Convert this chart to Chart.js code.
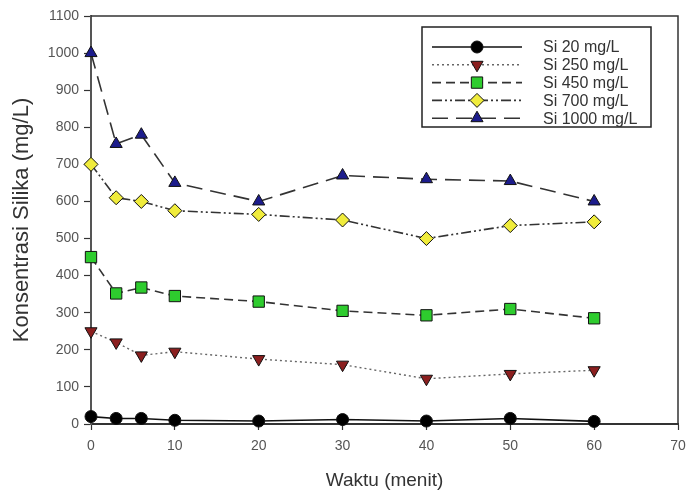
<!DOCTYPE html>
<html>
<head>
<meta charset="utf-8">
<script src="https://cdn.jsdelivr.net/npm/chart.js@4.4.0/dist/chart.umd.min.js"></script>
<style>
  html, body { margin: 0; padding: 0; background: #fff; }
  #wrap { width: 690px; height: 497px; }
</style>
</head>
<body>
<div id="wrap"><canvas id="silikaChart" width="690" height="497"></canvas></div>
<script>
// sampling times (menit)
const waktu = [0, 3, 6, 10, 20, 30, 40, 50, 60];

// silica concentration per initial dose (mg/L)
const si20   = [20, 15, 15, 10, 8, 12, 8, 15, 7];
const si250  = [250, 220, 185, 195, 175, 160, 122, 135, 145];
const si450  = [450, 352, 368, 345, 330, 305, 293, 310, 285];
const si700  = [700, 610, 600, 575, 565, 550, 500, 535, 545];
const si1000 = [1000, 755, 780, 650, 600, 670, 660, 655, 600];

const xTicks = [0, 10, 20, 30, 40, 50, 60, 70];
const yTicks = [0, 100, 200, 300, 400, 500, 600, 700, 800, 900, 1000, 1100];

const FONT = '"Liberation Sans", Arial, sans-serif';

function pts(ys) {
    return waktu.map((x, i) => ({ x: x, y: ys[i] }));
}

function series(label, ys, style) {
    return Object.assign({
        label: label,
        data: pts(ys),
        borderWidth: 1.6,
        pointBorderColor: '#111',
        pointBorderWidth: 1,
        pointRadius: 6,
        fill: false,
        tension: 0,
        clip: false
    }, style);
}

const datasets = [
    series('Si 20 mg/L', si20, {
        borderColor: '#111', borderDash: [],
        pointStyle: 'circle', pointBackgroundColor: '#000', pointRadius: 6
    }),
    series('Si 250 mg/L', si250, {
        borderColor: '#666', borderDash: [2, 3], borderWidth: 1.4,
        pointStyle: 'triangle', pointRotation: 180, pointBackgroundColor: '#8b1f1f', pointRadius: 7
    }),
    series('Si 450 mg/L', si450, {
        borderColor: '#333', borderDash: [9, 5],
        pointStyle: 'rect', pointBackgroundColor: '#2ecc2e', pointRadius: 8
    }),
    series('Si 700 mg/L', si700, {
        borderColor: '#333', borderDash: [10, 3, 2, 3, 2, 3],
        pointStyle: 'rectRot', pointBackgroundColor: '#f0ec3c', pointRadius: 7
    }),
    series('Si 1000 mg/L', si1000, {
        borderColor: '#333', borderDash: [16, 8],
        pointStyle: 'triangle', pointBackgroundColor: '#1c1c8c', pointRadius: 7
    })
];

// frame on top/right and the boxed legend
const framePlugin = {
    id: 'frameLegend',
    afterDraw(chart) {
        const ctx = chart.ctx;
        const a = chart.chartArea;
        ctx.save();
        ctx.strokeStyle = '#333';
        ctx.lineWidth = 1.5;
        ctx.beginPath();
        ctx.moveTo(a.left, a.top);
        ctx.lineTo(a.right, a.top);
        ctx.lineTo(a.right, a.bottom);
        ctx.stroke();

        // legend box
        const bx = 422, by = 27, bw = 229, bh = 100;
        ctx.fillStyle = '#fff';
        ctx.fillRect(bx, by, bw, bh);
        ctx.strokeStyle = '#222';
        ctx.lineWidth = 1.5;
        ctx.strokeRect(bx, by, bw, bh);

        ctx.font = '16px ' + FONT;
        ctx.textBaseline = 'middle';
        chart.data.datasets.forEach((ds, i) => {
            const y = 47 + i * 17.8;
            ctx.save();
            ctx.strokeStyle = ds.borderColor;
            ctx.lineWidth = ds.borderWidth;
            ctx.setLineDash(ds.borderDash);
            ctx.beginPath();
            ctx.moveTo(432, y);
            ctx.lineTo(522, y);
            ctx.stroke();
            ctx.restore();

            ctx.save();
            ctx.fillStyle = ds.pointBackgroundColor;
            ctx.strokeStyle = ds.pointBorderColor;
            ctx.lineWidth = 1;
            Chart.helpers.drawPoint(ctx, {
                pointStyle: ds.pointStyle,
                rotation: ds.pointRotation || 0,
                radius: ds.pointRadius,
                borderWidth: 1
            }, 477, y);
            ctx.restore();

            ctx.fillStyle = '#333';
            ctx.textAlign = 'left';
            ctx.fillText(ds.label, 543, y + 1);
        });
        ctx.restore();
    }
};

new Chart(document.getElementById('silikaChart'), {
    type: 'line',
    data: { datasets: datasets },
    options: {
        responsive: false,
        animation: false,
        layout: { padding: { left: 0, right: 12, top: 16, bottom: 0 } },
        plugins: {
            legend: { display: false },
            tooltip: { enabled: false }
        },
        scales: {
            x: {
                type: 'linear',
                min: 0,
                max: 70,
                afterBuildTicks(scale) { scale.ticks = xTicks.map(v => ({ value: v })); },
                afterFit(scale) {
                    scale.height = 73;
                    scale.paddingLeft = 0;
                    scale.paddingRight = 0;
                },
                grid: { drawOnChartArea: false, drawTicks: true, tickLength: 6, color: '#333', tickWidth: 1.2 },
                border: { color: '#333', width: 2 },
                ticks: { color: '#555', font: { family: FONT, size: 14 }, padding: 8, maxRotation: 0,
                         callback: v => String(v) },
                title: { display: true, text: 'Waktu (menit)', color: '#333', font: { family: FONT, size: 19 }, padding: { top: 0, bottom: 5 } }
            },
            y: {
                min: 0,
                max: 1100,
                afterBuildTicks(scale) { scale.ticks = yTicks.map(v => ({ value: v })); },
                afterFit(scale) {
                    scale.width = 91;
                    scale.paddingTop = 0;
                    scale.paddingBottom = 0;
                },
                grid: { drawOnChartArea: false, drawTicks: true, tickLength: 7, color: '#333', tickWidth: 1.2 },
                border: { color: '#555', width: 2 },
                ticks: { color: '#555', font: { family: FONT, size: 14 }, padding: 5,
                         callback: v => String(v) },
                title: { display: true, text: 'Konsentrasi Silika (mg/L)', color: '#333', font: { family: FONT, size: 22 }, padding: { top: 9, bottom: 0 } }
            }
        }
    },
    plugins: [framePlugin]
});
</script>
</body>
</html>
